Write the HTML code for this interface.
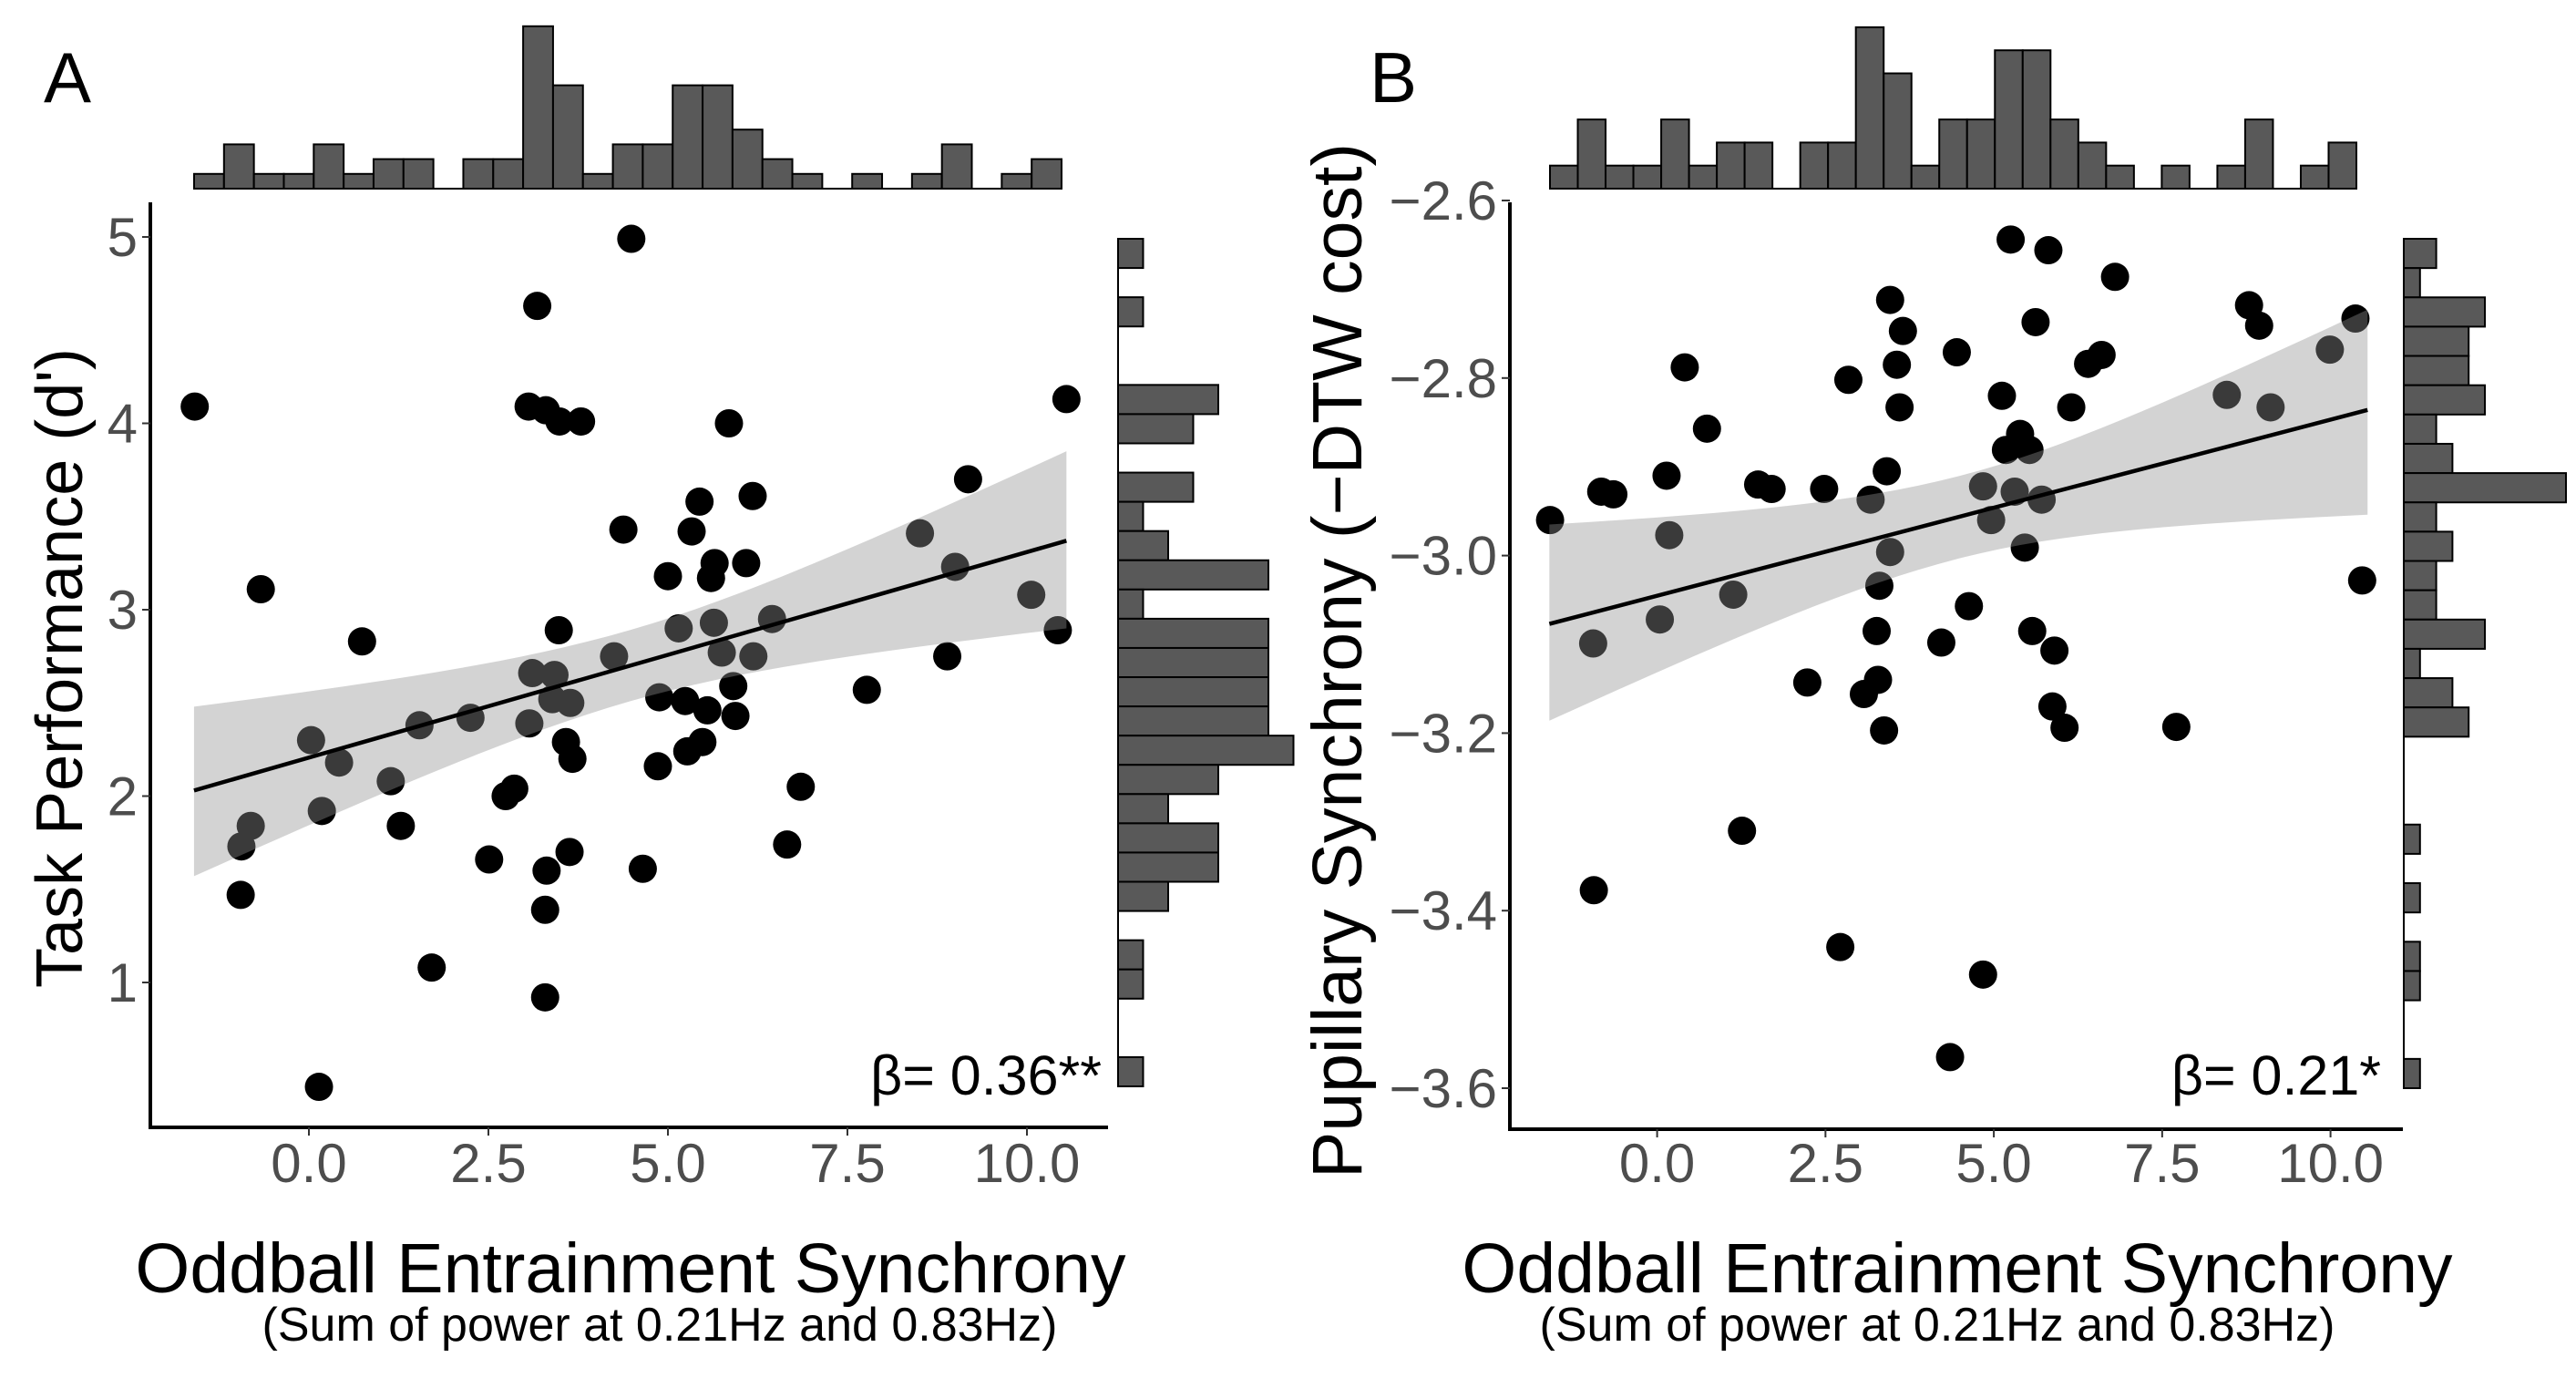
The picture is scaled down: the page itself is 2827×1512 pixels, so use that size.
<!DOCTYPE html>
<html><head><meta charset="utf-8"><style>
html,body{margin:0;padding:0;background:#fff;}
svg{display:block;font-family:"Liberation Sans",Arial,sans-serif;}
</style></head><body>
<svg id="chart" width="2827" height="1512" viewBox="0 0 2827 1512" xmlns="http://www.w3.org/2000/svg"></svg>
<script>
// ---- Data ----
const xA = [-1.59,-0.67,-0.94,-0.81,-0.95,0.03,0.42,0.18,0.14,0.74,1.14,1.28,1.54,1.71,2.25,2.51,2.74,2.86,3.18,3.06,3.30,3.49,3.79,3.11,3.42,3.39,3.64,3.07,3.48,3.58,3.67,3.31,3.63,3.29,3.29,4.49,4.38,4.25,4.86,4.88,4.65,5.00,5.15,5.24,5.27,5.44,5.33,5.48,5.55,5.65,5.60,5.64,5.75,5.85,5.91,5.94,6.09,6.18,6.19,6.45,6.66,6.85,7.77,8.51,8.89,9.00,9.18,10.06,10.43,10.55];
const yA = [4.09,3.11,1.73,1.84,1.47,2.30,2.18,1.92,0.44,2.83,2.08,1.84,2.38,1.08,2.42,1.66,2.00,2.04,4.63,4.09,4.07,4.01,4.01,2.66,2.65,2.52,2.50,2.39,2.89,2.29,2.20,1.60,1.70,1.39,0.92,4.99,3.43,2.75,2.16,2.53,1.61,3.18,2.90,2.51,2.24,3.58,3.42,2.29,2.46,3.25,3.17,2.93,2.77,4.00,2.59,2.43,3.25,3.61,2.75,2.95,1.74,2.05,2.57,3.41,2.75,3.23,3.70,3.08,2.89,4.13];
const xB = [-1.59,-0.95,-0.94,-0.83,-0.65,0.04,0.14,0.18,0.41,0.74,1.13,1.26,1.50,1.70,2.23,2.48,2.72,2.84,3.07,3.17,3.28,3.26,3.30,3.37,3.41,3.46,3.46,3.56,3.65,3.60,4.22,4.35,4.45,4.63,4.84,4.84,4.96,5.12,5.18,5.31,5.25,5.39,5.53,5.46,5.57,5.62,5.71,5.81,5.90,5.87,6.05,6.15,6.40,6.60,6.80,7.71,8.46,8.79,8.94,9.11,9.99,10.37,10.47];
const yB = [-2.960,-3.099,-3.377,-2.928,-2.931,-3.072,-2.910,-2.977,-2.788,-2.857,-3.044,-3.310,-2.920,-2.925,-3.143,-2.925,-3.441,-2.802,-3.156,-2.937,-3.140,-3.085,-3.034,-3.197,-2.905,-2.996,-2.712,-2.785,-2.747,-2.833,-3.098,-3.565,-2.771,-3.057,-3.472,-2.922,-2.960,-2.820,-2.881,-2.928,-2.644,-2.863,-2.881,-2.991,-3.085,-2.737,-2.937,-2.656,-3.107,-3.170,-3.194,-2.833,-2.784,-2.774,-2.686,-3.193,-2.819,-2.718,-2.741,-2.833,-2.768,-2.733,-3.028];
const fitA = [2.03, 3.37];
const bandLeftA = [1.57, 2.48];
const bandRightA = [2.90, 3.85];
const fitB = [-3.077, -2.836];
const bandLeftB = [-3.186, -2.965];
const bandRightB = [-2.954, -2.723];
const topHistA = [1,3,1,1,3,1,2,2,0,2,2,11,7,1,3,3,7,7,4,2,1,0,1,0,1,3,0,1,2];
const rightHistA = [1,0,1,0,0,4,3,0,3,1,2,6,1,6,6,6,6,7,4,2,4,4,2,0,1,1,0,0,1];
const topHistB = [1,3,1,1,3,1,2,2,0,2,2,7,5,1,3,3,6,6,3,2,1,0,1,0,1,3,0,1,2];
const rightHistB = [2,1,5,4,4,5,2,3,10,2,3,2,2,5,1,3,4,0,0,0,1,0,1,0,1,1,0,0,1];
const xTicks = [0, 2.5, 5, 7.5, 10];
const xTickLabels = ["0.0","2.5","5.0","7.5","10.0"];
const yTicksA = [1,2,3,4,5];
const yTickLabelsA = ["1","2","3","4","5"];
const yTicksB = [-3.6,-3.4,-3.2,-3.0,-2.8,-2.6];
const yTickLabelsB = ["\u22123.6","\u22123.4","\u22123.2","\u22123.0","\u22122.8","\u22122.6"];

const NS = "http://www.w3.org/2000/svg";
const svg = document.getElementById('chart');
function mk(tag, attrs, parent, text){
  const e = document.createElementNS(NS, tag);
  for (const k in attrs) e.setAttribute(k, attrs[k]);
  if (text !== undefined) e.textContent = text;
  (parent || svg).appendChild(e);
  return e;
}

function panel(cfg){
  const g = mk('g', {});
  
  
  const sx = v => cfg.x0px + v * (cfg.x10px - cfg.x0px) / 10;
  const sy = v => cfg.yApx + (v - cfg.yA) * (cfg.yBpx - cfg.yApx) / (cfg.yB - cfg.yA);
  const pts = mk('g', {}, g);
  
  
  cfg.xs.forEach((xv, i) => {
    const c = mk('circle', {cx: sx(xv), cy: sy(cfg.ys[i]), r: 15.5, fill: '#000'}, pts);
    
    
  });
  const xl = -1.6, xr = 10.55, xm = (xl + xr) / 2;
  const n = 40;
  const up = [], lo = [];
  for (let k = 0; k <= n; k++) {
    const xv = xl + (xr - xl) * k / n;
    const t = (xv - xl) / (xr - xl);
    const fit = cfg.fit[0] + (cfg.fit[1] - cfg.fit[0]) * t;
    const hl = (cfg.bl[1] - cfg.bl[0]) / 2, hr = (cfg.br[1] - cfg.br[0]) / 2;
    const cl = (cfg.bl[1] + cfg.bl[0]) / 2 - cfg.fit[0], cr = (cfg.br[1] + cfg.br[0]) / 2 - cfg.fit[1];
    const hmin = Math.min(hl, hr) * 0.42;
    const d = (xv - xm) / (xr - xm);
    const hEnd = d < 0 ? hl : hr;
    const h = Math.sqrt(hmin * hmin + (hEnd * hEnd - hmin * hmin) * d * d);
    const off = cl + (cr - cl) * t;
    up.push([sx(xv), sy(fit + off + h)]);
    lo.push([sx(xv), sy(fit + off - h)]);
  }
  const bandPts = up.concat(lo.reverse()).map(p => p.join(',')).join(' ');
  const band = mk('polygon', {points: bandPts, fill: 'rgba(145,145,145,0.4)'}, g);
  
  
  const line = mk('line', {x1: sx(xl), y1: sy(cfg.fit[0]), x2: sx(xr), y2: sy(cfg.fit[1]), stroke: '#000', 'stroke-width': 4.5}, g);
  
  
  const ax = mk('path', {d: `M${cfg.axX},${cfg.axTop} L${cfg.axX},${cfg.axY} L${cfg.axRight},${cfg.axY}`, fill: 'none', stroke: '#000', 'stroke-width': 4}, g);
  
  
  xTicks.forEach((tv, i) => {
    const tk = mk('line', {x1: sx(tv), x2: sx(tv), y1: cfg.axY, y2: cfg.axY + 9, stroke: '#333', 'stroke-width': 2}, g);
    
    
    const tl = mk('text', {x: sx(tv), y: 1297, 'text-anchor': 'middle', 'font-size': 60, fill: '#4d4d4d'}, g, xTickLabels[i]);
    
    
  });
  cfg.yTicks.forEach((tv, i) => {
    const tk = mk('line', {x1: cfg.axX - 9, x2: cfg.axX, y1: sy(tv), y2: sy(tv), stroke: '#333', 'stroke-width': 2}, g);
    
    
    const tl = mk('text', {x: cfg.axX - 14, y: sy(tv) + 21, 'text-anchor': 'end', 'font-size': 60, fill: '#4d4d4d'}, g, cfg.yTickLabels[i]);
    
    
  });
  const th = mk('g', {}, g);
  
  
  const tw = (cfg.thRight - cfg.thLeft) / cfg.topHist.length;
  cfg.topHist.forEach((c, i) => {
    const h = c * cfg.thUnit;
    const r = mk('rect', {x: cfg.thLeft + i * tw, y: 207 - h, width: tw, height: h, fill: '#595959', stroke: '#000', 'stroke-width': 2}, th);
    
    
  });
  const tb = mk('line', {x1: cfg.thLeft, x2: cfg.thRight, y1: 207, y2: 207, stroke: '#000', 'stroke-width': 2}, th);
  
  
  const rh = mk('g', {}, g);
  
  
  const rw = (cfg.rhBottom - cfg.rhTop) / cfg.rightHist.length;
  cfg.rightHist.forEach((c, i) => {
    const w = c * cfg.rhUnit;
    const r = mk('rect', {x: cfg.rhX, y: cfg.rhTop + i * rw, width: w, height: rw, fill: '#595959', stroke: '#000', 'stroke-width': 2}, rh);
    
    
  });
  const rb = mk('line', {x1: cfg.rhX, x2: cfg.rhX, y1: cfg.rhTop, y2: cfg.rhBottom, stroke: '#000', 'stroke-width': 2}, rh);
  
  
  const lab = mk('text', {x: cfg.labX, y: 112, 'font-size': 78, fill: '#000'}, g, cfg.label);
  
  
  const yt = mk('text', {x: 0, y: 0, 'text-anchor': 'middle', 'font-size': cfg.ytSize, fill: '#000', transform: `translate(${cfg.ytX},${cfg.ytY}) rotate(-90)`}, g, cfg.yTitle);
  
  
  const xt = mk('text', {x: cfg.xtX, y: 1418, 'text-anchor': 'middle', 'font-size': 77, fill: '#000'}, g, 'Oddball Entrainment Synchrony');
  
  
  const st = mk('text', {x: cfg.stX, y: 1471, 'text-anchor': 'middle', 'font-size': 52, fill: '#000'}, g, '(Sum of power at 0.21Hz and 0.83Hz)');
  
  
  const bt = mk('text', {x: cfg.btX, y: 1201, 'text-anchor': 'end', 'font-size': 61, fill: '#000'}, g, cfg.beta);
  
  
}

panel({name: 'panel-a', xs: xA, ys: yA, fit: fitA, bl: bandLeftA, br: bandRightA,
  x0px: 339, x10px: 1127, yA: 1, yApx: 1078, yB: 5, yBpx: 260,
  axX: 165, axTop: 222, axY: 1237, axRight: 1216,
  yTicks: yTicksA, yTickLabels: yTickLabelsA,
  topHist: topHistA, thLeft: 213, thRight: 1165, thUnit: 16.2,
  rightHist: rightHistA, rhX: 1227, rhTop: 262, rhBottom: 1192, rhUnit: 27.5,
  label: 'A', labX: 48, yTitle: "Task Performance (d')", ytX: 90, ytY: 733, ytSize: 72,
  xtX: 692, stX: 724, btX: 1209, beta: '\u03b2= 0.36**'});

panel({name: 'panel-b', xs: xB, ys: yB, fit: fitB, bl: bandLeftB, br: bandRightB,
  x0px: 1818.6, x10px: 2557.6, yA: -3.6, yApx: 1194, yB: -2.6, yBpx: 220,
  axX: 1657, axTop: 222, axY: 1239, axRight: 2637,
  yTicks: yTicksB, yTickLabels: yTickLabelsB,
  topHist: topHistB, thLeft: 1701, thRight: 2586, thUnit: 25.3,
  rightHist: rightHistB, rhX: 2638, rhTop: 262, rhBottom: 1194, rhUnit: 17.8,
  label: 'B', labX: 1503, yTitle: 'Pupillary Synchrony (\u2212DTW cost)', ytX: 1494, ytY: 725, ytSize: 77,
  xtX: 2148, stX: 2126, btX: 2613, beta: '\u03b2= 0.21*'});
</script>
</body></html>
